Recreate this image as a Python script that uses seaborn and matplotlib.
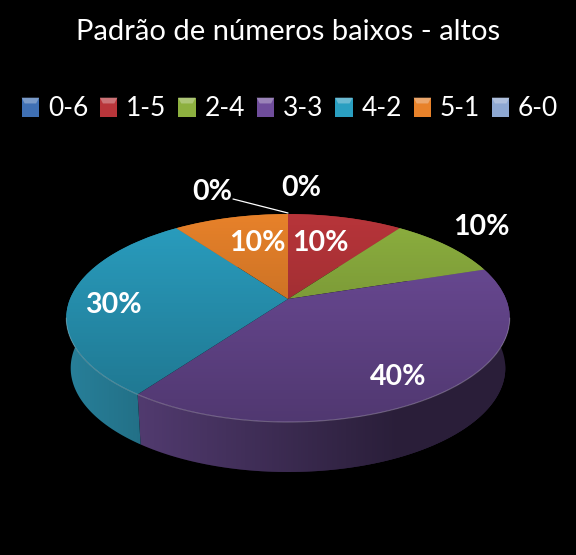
import numpy as np
import seaborn as sns
import matplotlib
matplotlib.use("Agg")
import matplotlib.pyplot as plt
from matplotlib.patches import Circle, Polygon, Patch
from matplotlib.transforms import Transform

title = "Padrão de números baixos - altos"
categories = ["0-6", "1-5", "2-4", "3-3", "4-2", "5-1", "6-0"]
values = [0, 10, 10, 40, 30, 10, 0]
colors = ["#3f70b4", "#b8353a", "#8db03f", "#6f4d9b", "#2a9fc1", "#e8822a", "#8ea8d2"]

sns.set_theme(style="white")
plt.rcParams["font.family"] = ["Lato", "DejaVu Sans"]

# pie tilt, in pixels of the 576x555 picture
cx, cy = 288, 299
A, B, k = 218, 100.5, 0.183
depth = 50


class Tilt(Transform):
    input_dims = 2
    output_dims = 2

    def transform_non_affine(self, xy):
        xy = np.asarray(xy, dtype=float)
        d = 1 + k * xy[:, 1]
        return np.column_stack([cx + A * xy[:, 0] / d, cy - B * xy[:, 1] / d])


def rim(t, low=False):
    u, v = np.sin(t), np.cos(t)
    d = 1 + k * v
    s = 0.98 if low else 1
    return cx + s * A * u / d, cy - B * v / d + (depth if low else 0)


fig = plt.figure(figsize=(5.76, 5.55), dpi=100, facecolor="black")
ax = fig.add_axes([0, 0, 1, 1])
ax.set_facecolor("black")

wedges, _ = ax.pie(values, colors=colors, startangle=90, counterclock=False)
ax.set_aspect("auto")
ax.set_xlim(0, 576)
ax.set_ylim(555, 0)
ax.axis("off")

tilt = Tilt() + ax.transData
for w in wedges:
    w.set_transform(tilt)
    w.set_zorder(5)
    w.set_linewidth(0)

# side wall
ends = np.cumsum([0] + values) / sum(values) * 2 * np.pi
for i, c in enumerate(colors):
    if values[i] == 0:
        continue
    t = np.linspace(ends[i], ends[i + 1], 120)
    x1, y1 = rim(t)
    x2, y2 = rim(t[::-1], low=True)
    ax.fill(np.r_[x1, x2], np.r_[y1, y2], color=sns.dark_palette(c, 5)[3], lw=0, zorder=2)

t0 = np.arccos(-k)
t = np.linspace(t0, 2 * np.pi - t0, 300)
x1, y1 = rim(t)
x2, y2 = rim(t[::-1], low=True)
front = Polygon(np.column_stack([np.r_[x1, x2], np.r_[y1, y2]]), closed=True,
                transform=ax.transData, fill=False, lw=0)
ax.add_patch(front)

# wall gets darker to the right
grad = np.zeros((1, 256, 4))
grad[0, :, 3] = np.clip(np.linspace(0.0, 0.75, 256), 0, 0.55)
im = ax.imshow(grad, extent=[60, 520, 480, 260], aspect="auto", zorder=3)
im.set_clip_path(front)

# top face gets darker downwards
top = Circle((0, 0), 1, transform=tilt, fill=False, lw=0)
ax.add_patch(top)
grad = np.zeros((256, 1, 4))
grad[:, 0, 3] = np.linspace(0, 0.28, 256)
im = ax.imshow(grad, extent=[60, 516, 425, 210], aspect="auto", zorder=6)
im.set_clip_path(top)

# light edge along the front
x1, y1 = rim(t)
ax.plot(x1, y1, color="white", alpha=0.25, lw=0.8, zorder=7)

ax.set_xlim(0, 576)
ax.set_ylim(555, 0)

ax.text(288, 32, title, color="white", fontsize=21, ha="center", va="center")

label_pos = [(301, 188), (320, 243), (481, 227), (398, 377), (113, 305), (257, 243), (212, 192)]
for v, (x, y) in zip(values, label_pos):
    ax.text(x, y, f"{v}%", color="white", fontsize=20.5, fontweight="bold",
            ha="center", va="center", zorder=10)
ax.plot([233, 288], [199, 213], color="white", lw=0.9, zorder=10)

handles = [Patch(facecolor=c, edgecolor="none", label=n) for c, n in zip(colors, categories)]
leg = ax.legend(handles=handles, loc="center", bbox_to_anchor=(290 / 576, 1 - 109 / 555), ncol=7,
                frameon=False, fontsize=19, labelcolor="white", handlelength=0.66, handleheight=0.74,
                handletextpad=0.33, columnspacing=0.45, borderpad=0, borderaxespad=0)

# swatch highlight on the upper part of each legend square
fig.canvas.draw()
light = sns.light_palette
for patch, c in zip(leg.get_patches(), colors):
    box = patch.get_window_extent().transformed(ax.transData.inverted())
    x0, x3 = min(box.x0, box.x1), max(box.x0, box.x1)
    y0, y3 = min(box.y0, box.y1), max(box.y0, box.y1)
    h = (y3 - y0) * 0.3
    ax.fill([x0, x3, x3 - 3, x0 + 3], [y0, y0, y0 + h, y0 + h], color=light(c, 4, reverse=True)[1],
            lw=0, zorder=12)

fig.savefig("out.png", dpi=100, facecolor="black")
